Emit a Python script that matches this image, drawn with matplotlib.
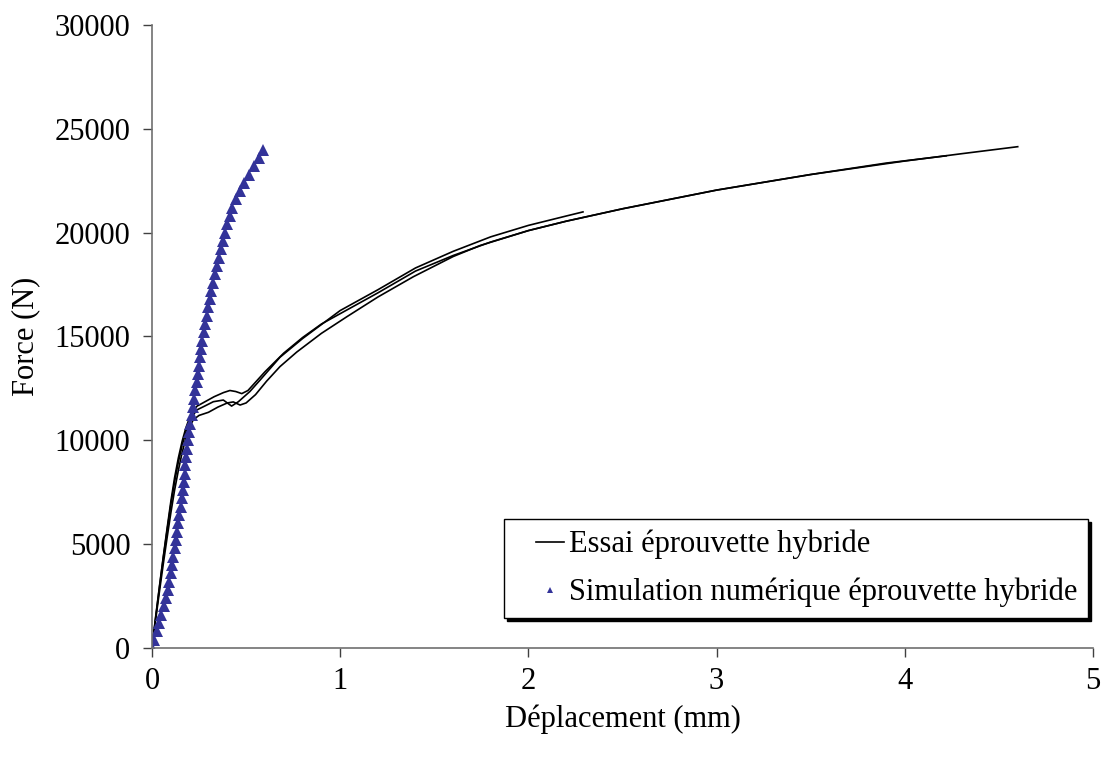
import matplotlib
matplotlib.use("Agg")
import matplotlib.pyplot as plt
from matplotlib.legend_handler import HandlerLine2D

# Test curves (three specimens)
x_test1 = [0, 0.02, 0.04, 0.06, 0.08, 0.10, 0.12, 0.14, 0.16, 0.18, 0.20, 0.22, 0.24, 0.28, 0.33,
           0.38, 0.414, 0.445, 0.477, 0.51, 0.54, 0.60, 0.70, 0.80, 0.90, 1.0, 1.2, 1.4, 1.6, 1.8,
           2.0, 2.2, 2.5, 3.0, 3.5, 4.0, 4.3, 4.6]
f_test1 = [0, 1550, 3000, 4400, 5750, 7050, 8200, 9150, 9950, 10600, 11100, 11450, 11650, 11850, 12100,
           12300, 12400, 12350, 12250, 12400, 12700, 13300, 14200, 14950, 15600, 16100, 17100, 18150, 18900, 19550,
           20100, 20550, 21150, 22050, 22800, 23450, 23800, 24140]

x_test2 = [0, 0.02, 0.04, 0.06, 0.08, 0.10, 0.12, 0.14, 0.16, 0.18, 0.20, 0.22, 0.25, 0.30, 0.35,
           0.40, 0.432, 0.468, 0.50, 0.55, 0.609, 0.68, 0.769, 0.90, 1.035, 1.2, 1.389, 1.6, 1.743,
           2.0, 2.2, 2.5, 3.0, 3.5, 3.9, 4.22]
f_test2 = [0, 1400, 2750, 4050, 5300, 6500, 7600, 8550, 9400, 10100, 10650, 11000, 11200, 11350, 11600,
           11800, 11850, 11700, 11800, 12200, 12850, 13550, 14250, 15150, 15950, 16900, 17880, 18850, 19380,
           20100, 20550, 21150, 22050, 22800, 23350, 23700]

x_test3 = [0, 0.02, 0.04, 0.06, 0.08, 0.10, 0.12, 0.14, 0.16, 0.18, 0.20, 0.2375, 0.28, 0.326, 0.379,
           0.423, 0.459, 0.52, 0.574, 0.68, 0.80, 1.0, 1.2, 1.4, 1.6, 1.8, 2.0, 2.2, 2.29]
f_test3 = [0, 1500, 2950, 4350, 5650, 6900, 8000, 8950, 9750, 10400, 10950, 11460, 11650, 11860, 11940,
           11650, 11860, 12350, 12900, 14000, 14900, 16250, 17250, 18300, 19100, 19800, 20350, 20800, 21000]

# Numerical simulation (triangles)
f_sim = [0, 400, 800, 1200, 1600, 2000, 2400, 2800, 3200, 3600, 4000, 4400, 4800, 5200, 5600, 6000,
         6400, 6800, 7200, 7600, 8000, 8400, 8800, 9200, 9600, 10000, 10400, 10800, 11200, 11600, 12000,
         12400, 12800, 13200, 13600, 14000, 14400, 14800, 15200, 15600, 16000, 16400, 16800, 17200, 17600,
         18000, 18400, 18800, 19200, 19600, 20000, 20400, 20800, 21200, 21600, 22000, 22400, 22800, 23200,
         23600, 23980]
x_sim = [0, 0.013, 0.026, 0.038, 0.050, 0.063, 0.075, 0.084, 0.092, 0.099, 0.106, 0.113, 0.120, 0.127,
         0.134, 0.140, 0.146, 0.152, 0.158, 0.163, 0.168, 0.173, 0.178, 0.183, 0.188, 0.193, 0.198, 0.204,
         0.211, 0.218, 0.225, 0.231, 0.237, 0.243, 0.249, 0.255, 0.261, 0.268, 0.275, 0.282, 0.290, 0.298,
         0.307, 0.316, 0.325, 0.334, 0.344, 0.355, 0.366, 0.378, 0.389, 0.401, 0.413, 0.427, 0.445, 0.465,
         0.487, 0.513, 0.540, 0.566, 0.592]

x_ticks = [0, 1, 2, 3, 4, 5]
y_ticks = [0, 5000, 10000, 15000, 20000, 25000, 30000]

plt.rcParams['font.family'] = ['Liberation Serif', 'DejaVu Serif']
FS = 22


class ShiftedHandler(HandlerLine2D):
    """Legend handler drawing the key in the right part of the handle box."""
    def __init__(self, shift_em=0.5, **kw):
        super().__init__(**kw)
        self.shift_em = shift_em

    def create_artists(self, legend, orig_handle, xdescent, ydescent, width, height, fontsize, trans):
        shift = self.shift_em * fontsize
        return super().create_artists(legend, orig_handle, xdescent - shift, ydescent,
                                      width - shift, height, fontsize, trans)


fig = plt.figure(figsize=(11.07, 7.58), dpi=100)
ax = fig.add_axes([152/1107, 1-648/758, (1093-152)/1107, (648-25)/758])

lw = 1.2
l1, = ax.plot(x_test1, f_test1, color='black', lw=lw, label='Essai éprouvette hybride')
ax.plot(x_test2, f_test2, color='black', lw=lw)
ax.plot(x_test3, f_test3, color='black', lw=lw)
l2, = ax.plot(x_sim, f_sim, linestyle='none', marker='^', markersize=8.5, color='#333399',
              markeredgewidth=0, label='Simulation numérique éprouvette hybride')

ax.set_xlim(0, 5)
ax.set_ylim(0, 30000)
ax.set_xticks(x_ticks)
ax.set_yticks(y_ticks)
ax.set_xticklabels([str(v) for v in x_ticks])
ax.set_yticklabels([str(v) for v in y_ticks])

for s in ['top', 'right']:
    ax.spines[s].set_visible(False)
for s in ['left', 'bottom']:
    ax.spines[s].set_color('#707070')
    ax.spines[s].set_linewidth(1.2)
ax.tick_params(axis='both', direction='out', length=6.5, width=1, color='#404040',
               labelsize=FS)
ax.tick_params(axis='x', pad=7)
ax.tick_params(axis='y', pad=9)

ax.set_xlabel('Déplacement (mm)', fontsize=FS, labelpad=6)
ax.set_ylabel('Force (N)', fontsize=FS, labelpad=10)

leg = ax.legend(handles=[l1, l2], loc='lower right',
                bbox_to_anchor=((1088-152)/941, (648-618)/623),
                borderaxespad=0, fontsize=FS, frameon=True, fancybox=False,
                shadow={'color': 'black', 'alpha': 1.0},
                handlelength=1.6, handletextpad=0.17, markerscale=0.55,
                borderpad=0.35, labelspacing=0.6,
                handler_map={l1: ShiftedHandler(0.7), l2: ShiftedHandler(0.7, numpoints=1)})
leg.get_frame().set_edgecolor('black')
leg.get_frame().set_linewidth(1.0)

fig.savefig('out.png', dpi=100, facecolor='white')
